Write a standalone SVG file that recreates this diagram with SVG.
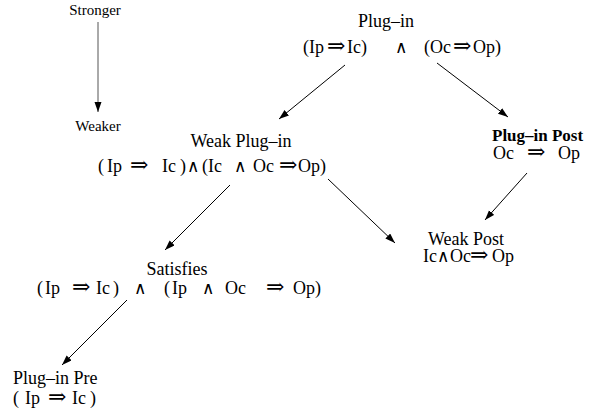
<svg xmlns="http://www.w3.org/2000/svg" width="591" height="416" viewBox="0 0 591 416">
<defs>
<marker id="ah" markerWidth="11" markerHeight="8" refX="10" refY="3.5" orient="auto" markerUnits="userSpaceOnUse">
<path d="M0,0 L10,3.5 L0,7 z" fill="#000"/>
</marker>
<style>
text{font-family:"Liberation Serif","DejaVu Serif",serif;font-size:18px;fill:#000}
.s{font-size:15px}
.b{font-weight:bold;font-size:17px}
.sym{font-family:"DejaVu Serif","Liberation Serif",serif;font-size:22px}
.and{font-family:"DejaVu Serif","Liberation Serif",serif;font-size:17px}
.c line{stroke:#000;stroke-width:1;marker-end:url(#ah)}
</style>
</defs>
<rect width="591" height="416" fill="#fff"/>
<g class="c" id="connectors">
<line x1="98" y1="22" x2="98" y2="112" style="stroke:#555"/>
<line x1="345" y1="65" x2="279" y2="119"/>
<line x1="437" y1="63" x2="508" y2="117"/>
<line x1="230" y1="185" x2="165" y2="250"/>
<line x1="328" y1="179" x2="395" y2="243"/>
<line x1="527" y1="173" x2="485" y2="220"/>
<line x1="127" y1="300" x2="62" y2="365"/>
</g>
<g id="legend">
<text class="s" x="95" y="15" text-anchor="middle">Stronger</text>
<text class="s" x="98" y="131" text-anchor="middle">Weaker</text>
</g>
<g id="plugin">
<text x="386" y="27" text-anchor="middle">Plug–in</text>
<text y="53"><tspan x="303">(Ip</tspan><tspan class="sym" x="327">⇒</tspan><tspan x="347">Ic)</tspan><tspan class="and" x="395">∧</tspan><tspan x="424">(Oc</tspan><tspan class="sym" x="453">⇒</tspan><tspan x="473">Op)</tspan></text>
</g>
<g id="plugin-post">
<text class="b" x="492" y="141">Plug–in Post</text>
<text y="159"><tspan x="493">Oc</tspan><tspan class="sym" x="527">⇒</tspan><tspan x="558">Op</tspan></text>
</g>
<g id="weak-plugin">
<text x="241" y="147" text-anchor="middle">Weak Plug–in</text>
<text y="172"><tspan x="98">(</tspan><tspan x="107">Ip</tspan><tspan class="sym" x="130">⇒</tspan><tspan x="162">Ic</tspan><tspan x="180">)</tspan><tspan class="and" x="187">∧</tspan><tspan x="202">(</tspan><tspan x="208">Ic</tspan><tspan class="and" x="234">∧</tspan><tspan x="253">Oc</tspan><tspan class="sym" x="279">⇒</tspan><tspan x="298">Op)</tspan></text>
</g>
<g id="weak-post">
<text x="466" y="245" text-anchor="middle">Weak Post</text>
<text y="262"><tspan x="423">Ic</tspan><tspan class="and" x="437">∧</tspan><tspan x="450">Oc</tspan><tspan class="sym" x="470">⇒</tspan><tspan x="492">Op</tspan></text>
</g>
<g id="satisfies">
<text x="177" y="275" text-anchor="middle">Satisfies</text>
<text y="294"><tspan x="37">(</tspan><tspan x="45">Ip</tspan><tspan class="sym" x="72">⇒</tspan><tspan x="96">Ic</tspan><tspan x="113">)</tspan><tspan class="and" x="134">∧</tspan><tspan x="164">(</tspan><tspan x="172">Ip</tspan><tspan class="and" x="202">∧</tspan><tspan x="225">Oc</tspan><tspan class="sym" x="266">⇒</tspan><tspan x="293">Op)</tspan></text>
</g>
<g id="plugin-pre">
<text x="13" y="384">Plug–in Pre</text>
<text y="404"><tspan x="13">(</tspan><tspan x="25">Ip</tspan><tspan class="sym" x="48">⇒</tspan><tspan x="72">Ic</tspan><tspan x="90">)</tspan></text>
</g>
</svg>
